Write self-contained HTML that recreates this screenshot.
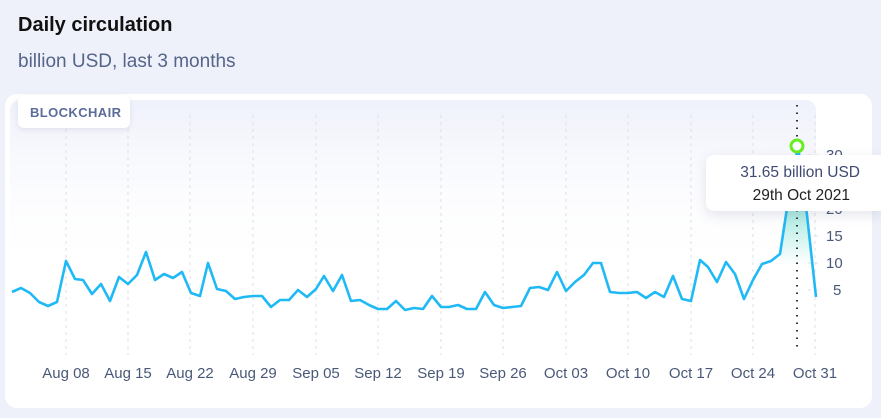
<!DOCTYPE html><html><head><style>
body{margin:0;width:881px;height:418px;background:#eef1f9;font-family:"Liberation Sans",sans-serif;overflow:hidden;position:relative}
.t{position:absolute;left:18px;top:14px;font-size:20px;font-weight:bold;color:#111}
.s{position:absolute;left:18px;top:51px;font-size:19px;color:#55658a}
.card{position:absolute;left:5px;top:94px;width:867px;height:314px;background:#fff;border-radius:12px}
.tip{position:absolute;left:706px;top:155px;width:175px;height:56px;background:#fff;border-radius:8px 0 0 8px;box-shadow:0 4px 12px rgba(80,90,130,.15);font-size:15.5px;text-align:right}
</style></head><body>
<div class="t">Daily circulation</div>
<div class="s">billion USD, last 3 months</div>
<div class="card"></div>
<svg width="881" height="418" style="position:absolute;left:0;top:0">
<defs>
<linearGradient id="bg" x1="0" y1="0" x2="0" y2="1"><stop offset="0" stop-color="#eff1fb"/><stop offset="1" stop-color="#fff" stop-opacity="0"/></linearGradient>
<linearGradient id="ar" gradientUnits="userSpaceOnUse" x1="0" y1="150" x2="0" y2="265"><stop offset="0" stop-color="#22c9b0" stop-opacity=".8"/><stop offset="1" stop-color="#22c9b0" stop-opacity="0"/></linearGradient>
</defs>
<rect x="10" y="100" width="806" height="180" rx="10" fill="url(#bg)"/>
<g stroke="#dcdfe6" stroke-dasharray="3,4" stroke-width="1">
<line x1="66" y1="115" x2="66" y2="355"/><line x1="128" y1="115" x2="128" y2="355"/><line x1="190" y1="115" x2="190" y2="355"/><line x1="253" y1="115" x2="253" y2="355"/><line x1="316" y1="115" x2="316" y2="355"/><line x1="378" y1="115" x2="378" y2="355"/><line x1="441" y1="115" x2="441" y2="355"/><line x1="503" y1="115" x2="503" y2="355"/><line x1="566" y1="115" x2="566" y2="355"/><line x1="628" y1="115" x2="628" y2="355"/><line x1="691" y1="115" x2="691" y2="355"/><line x1="753" y1="115" x2="753" y2="355"/><line x1="815" y1="115" x2="815" y2="355"/>
<line x1="808" y1="155" x2="820" y2="155"/><line x1="808" y1="182" x2="820" y2="182"/><line x1="808" y1="209" x2="820" y2="209"/><line x1="808" y1="236" x2="820" y2="236"/><line x1="808" y1="263" x2="820" y2="263"/><line x1="808" y1="290" x2="820" y2="290"/>
</g>
<g fill="#4a5878" font-size="15">
<text x="826" y="160">30</text><text x="826" y="214">20</text><text x="826" y="241">15</text><text x="826" y="268">10</text><text x="833" y="295">5</text>
<g text-anchor="middle"><text x="66" y="378">Aug 08</text><text x="128" y="378">Aug 15</text><text x="190" y="378">Aug 22</text><text x="253" y="378">Aug 29</text><text x="316" y="378">Sep 05</text><text x="378" y="378">Sep 12</text><text x="441" y="378">Sep 19</text><text x="503" y="378">Sep 26</text><text x="566" y="378">Oct 03</text><text x="628" y="378">Oct 10</text><text x="691" y="378">Oct 17</text><text x="753" y="378">Oct 24</text><text x="815" y="378">Oct 31</text></g>
</g>
<path d="M780,254 L789,195 L798,146 L807,215 L816,297 L816,320 L780,320Z" fill="url(#ar)"/>
<polyline fill="none" stroke="#1fb9f5" stroke-width="2.6" stroke-linejoin="round" points="12,292 21,288 30,293 39,302 48,306 57,302 66,261 75,279 83,280 92,294 101,284 110,301 119,277 128,284 137,275 146,252 155,280 164,274 173,278 182,272 191,293 200,296 208,263 217,289 226,291 235,299 244,297 253,296 262,296 271,307 280,300 289,300 298,290 307,297 316,289 324,276 333,291 342,275 351,301 360,300 369,305 378,309 387,309 396,301 405,310 414,308 423,309 432,296 441,307 449,307 458,305 467,309 476,309 485,292 494,305 503,308 512,307 521,306 530,288 539,287 548,290 557,272 566,291 575,282 584,275 593,263 601,263 610,292 619,293 628,293 637,292 646,298 655,292 664,297 673,276 682,299 691,301 700,260 708,267 717,282 726,262 735,274 744,299 753,280 762,264 771,261 780,254 789,195 798,146 807,215 816,297"/>
<line x1="797" y1="105" x2="797" y2="350" stroke="#333" stroke-width="2" stroke-dasharray="1.5,6"/>
<circle cx="797" cy="146" r="6" fill="#fff" stroke="#66ee22" stroke-width="3"/>
<rect x="18" y="95" width="112" height="33" rx="6" fill="#fff" style="filter:drop-shadow(0 2px 3px rgba(80,90,130,.12))"/>
<text x="30" y="117" font-size="13" font-weight="bold" fill="#5a6c99" letter-spacing="0.4">BLOCKCHAIR</text>
</svg>
<div class="tip"><div style="position:absolute;right:21px;top:9px;color:#3e4a72">31.65 billion USD</div><div style="position:absolute;right:31px;top:32px;color:#222">29th Oct 2021</div></div>
</body></html>
